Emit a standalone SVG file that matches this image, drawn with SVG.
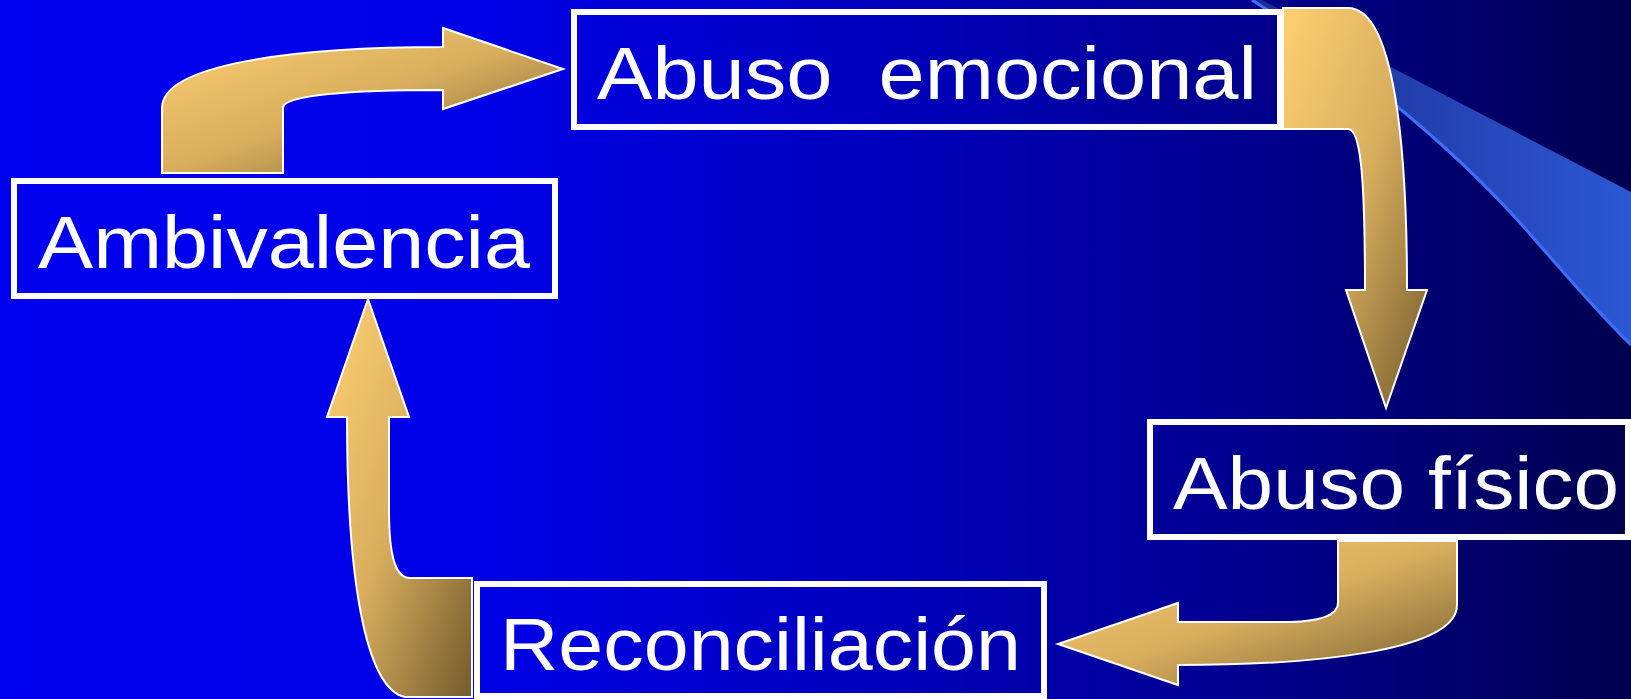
<svg xmlns="http://www.w3.org/2000/svg" width="1631" height="699" viewBox="0 0 1631 699">
<defs>
<linearGradient id="bg" gradientUnits="userSpaceOnUse" x1="0" y1="0" x2="1631" y2="0">
<stop offset="0" stop-color="#0000F0"/>
<stop offset="0.3" stop-color="#0000E6"/>
<stop offset="0.6" stop-color="#0000B2"/>
<stop offset="0.8" stop-color="#000086"/>
<stop offset="1" stop-color="#00004E"/>
</linearGradient>
<linearGradient id="sw" gradientUnits="userSpaceOnUse" x1="1260" y1="0" x2="1631" y2="0">
<stop offset="0" stop-color="#1A2E92"/>
<stop offset="1" stop-color="#2C58D4"/>
</linearGradient>
<linearGradient id="gold" x1="0" y1="0" x2="1" y2="1">
<stop offset="0" stop-color="#FFD072"/>
<stop offset="0.5" stop-color="#D8AE5E"/>
<stop offset="1" stop-color="#725B2D"/>
</linearGradient>
<style>
.box{fill:url(#bg);stroke:#FFFFFF;stroke-width:6}
.lbl{font-family:"Liberation Sans",Arial,sans-serif;font-size:75px;fill:#FFFFFF;white-space:pre}
.arr{fill:url(#gold);stroke:#FFFFFF;stroke-width:2;stroke-linejoin:miter}
</style>
</defs>
<rect x="0" y="0" width="1631" height="699" fill="url(#bg)"/>
<g id="swoosh">
<path d="M1262,0 L1631,192 L1631,345 C1600,315 1575,285 1535,240 C1450,140 1330,50 1252,0 Z" fill="url(#sw)"/>
<path d="M1252,0 C1330,50 1450,140 1535,240 C1575,285 1600,315 1631,345" fill="none" stroke="#3F6EFF" stroke-width="3"/>
</g>
<g id="connectors">
<path class="arr" d="M162,173 L162,108 C162,65 290,47 443,47 L443,28 L563,69 L443,109 L443,90 C350,90 283,95 283,108 L283,173 Z"/>
<path class="arr" d="M1283,8 L1348,8 C1395,8 1407,150 1407,290 L1427,290 L1386,408 L1346,290 L1365,290 C1365,170 1360,129 1348,129 L1283,129 Z"/>
<path class="arr" d="M1338,541 L1457,541 L1457,605 C1457,650 1320,665 1178,665 L1178,685 L1058,644 L1178,603 L1178,622 L1290,622 C1325,621 1338,614 1338,603 Z"/>
<path class="arr" d="M368,299 L409,417 L389,417 L389,510 C389,555 395,578 410,578 L472,578 L472,697 L405,697 C370,690 347,600 347,417 L327,417 Z"/>
</g>
<g id="node-ambivalencia">
<rect class="box" x="14" y="181" width="541" height="115"/>
<text class="lbl" x="38" y="268" textLength="492" lengthAdjust="spacingAndGlyphs">Ambivalencia</text>
</g>
<g id="node-abuso-emocional">
<rect class="box" x="574" y="12" width="706" height="115"/>
<text class="lbl" x="597" y="99" textLength="660" lengthAdjust="spacingAndGlyphs" xml:space="preserve">Abuso  emocional</text>
</g>
<g id="node-abuso-fisico">
<rect class="box" x="1150" y="422" width="478" height="115"/>
<text class="lbl" x="1173" y="509" textLength="446" lengthAdjust="spacingAndGlyphs">Abuso físico</text>
</g>
<g id="node-reconciliacion">
<rect class="box" x="477" y="584" width="567" height="112"/>
<text class="lbl" x="500" y="670" textLength="521" lengthAdjust="spacingAndGlyphs">Reconciliación</text>
</g>
</svg>
